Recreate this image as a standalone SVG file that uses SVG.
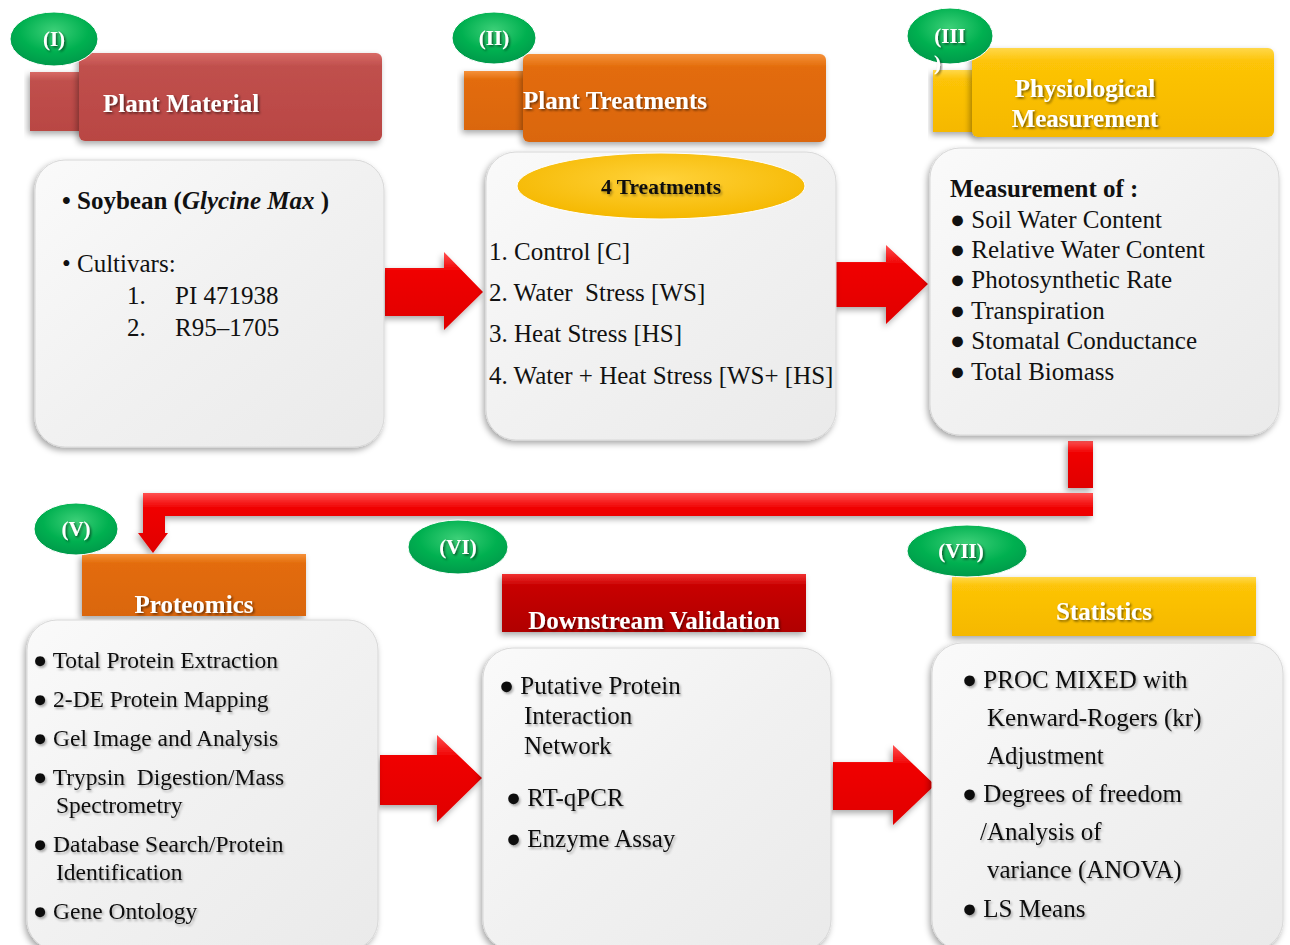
<svg xmlns="http://www.w3.org/2000/svg" width="1290" height="945" viewBox="0 0 1290 945">
<defs>
<linearGradient id="gRed" x1="0" y1="0" x2="0" y2="1"><stop offset="0" stop-color="#D86A66"/><stop offset="0.15" stop-color="#C0504D"/><stop offset="1" stop-color="#B94643"/></linearGradient>
<linearGradient id="gOrange" x1="0" y1="0" x2="0" y2="1"><stop offset="0" stop-color="#F5913A"/><stop offset="0.15" stop-color="#E36C09"/><stop offset="1" stop-color="#DA6610"/></linearGradient>
<linearGradient id="gYellow" x1="0" y1="0" x2="0" y2="1"><stop offset="0" stop-color="#FFD84A"/><stop offset="0.15" stop-color="#FDC407"/><stop offset="1" stop-color="#F5B800"/></linearGradient>
<linearGradient id="gDark" x1="0" y1="0" x2="0" y2="1"><stop offset="0" stop-color="#F03030"/><stop offset="0.2" stop-color="#C80000"/><stop offset="1" stop-color="#B00000"/></linearGradient>
<radialGradient id="gGreen" cx="0.5" cy="0.35" r="0.65"><stop offset="0" stop-color="#3DD078"/><stop offset="0.6" stop-color="#00B050"/><stop offset="1" stop-color="#00994A"/></radialGradient>
<radialGradient id="gGold" cx="0.5" cy="0.4" r="0.6"><stop offset="0" stop-color="#FFD23A"/><stop offset="1" stop-color="#F5B800"/></radialGradient>
<linearGradient id="gBox" x1="0" y1="0" x2="1" y2="1"><stop offset="0" stop-color="#FAFAFA"/><stop offset="0.5" stop-color="#F1F1F1"/><stop offset="1" stop-color="#EAEAEA"/></linearGradient>
<linearGradient id="gArrow" x1="0" y1="0" x2="0" y2="1"><stop offset="0" stop-color="#FF5050"/><stop offset="0.25" stop-color="#F00000"/><stop offset="1" stop-color="#E00000"/></linearGradient>
<filter id="sh" x="-10%" y="-10%" width="125%" height="130%"><feDropShadow dx="-2" dy="3" stdDeviation="3" flood-color="#000" flood-opacity="0.35"/></filter>
<filter id="tsh" x="-10%" y="-30%" width="130%" height="170%"><feDropShadow dx="1.5" dy="1.5" stdDeviation="1" flood-color="#000" flood-opacity="0.55"/></filter>
<filter id="tsl" x="-10%" y="-30%" width="130%" height="170%"><feDropShadow dx="1.5" dy="2" stdDeviation="1.2" flood-color="#000" flood-opacity="0.3"/></filter>
</defs>
<style>
.box{fill:url(#gBox);stroke:#D8D8D8;stroke-width:1;filter:url(#sh)}
.hd{font-family:"Liberation Serif",serif;font-weight:bold;font-size:25px;fill:#fff;filter:url(#tsh)}
.num{font-family:"Liberation Serif",serif;font-weight:bold;font-size:21px;fill:#fff;filter:url(#tsh)}
.t{font-family:"Liberation Serif",serif;font-size:25px;fill:#111}
.ts{font-family:"Liberation Serif",serif;font-size:25px;fill:#111;filter:url(#tsl)}
.tv{font-family:"Liberation Serif",serif;font-size:23.5px;fill:#111;filter:url(#tsl)}
.arr{fill:url(#gArrow);filter:url(#sh)}
.ov{fill:url(#gGreen);stroke:#fff;stroke-width:1}
</style>

<g id="connectors">
<polygon class="arr" points="385,268 444,268 444,252 483,292 444,330 444,316 385,316"/>
<polygon class="arr" points="836,262 886,262 886,245 928,284 886,324 886,307 836,307"/>
<polygon class="arr" points="380,755 437,755 437,735 482,778 437,822 437,805 380,805"/>
<polygon class="arr" points="833,762 893,762 893,745 935,785 893,825 893,810 833,810"/>
<g class="arr">
<rect x="1068" y="441" width="25" height="47" fill="url(#gArrow)"/>
<polygon points="143,493 1093,493 1093,516 165,516 165,533 168,533 153,553 138,533 143,533" fill="url(#gArrow)"/>
</g>
</g>

<g id="node-I">
<rect x="30" y="72" width="60" height="59" fill="url(#gRed)" filter="url(#sh)"/>
<rect x="79" y="53" width="303" height="88" rx="6" fill="url(#gRed)" filter="url(#sh)"/>
<ellipse class="ov" cx="54" cy="39" rx="44" ry="27"/>
<text class="num" x="54" y="46" text-anchor="middle">(I)</text>
<text class="hd" x="103" y="112">Plant Material</text>
<rect class="box" x="35" y="160" width="349" height="287" rx="30"/>
<text class="t" x="62" y="209" font-weight="bold">• Soybean (<tspan font-style="italic">Glycine Max</tspan> )</text>
<text class="t" x="62" y="272">• Cultivars:</text>
<text class="t" x="127" y="304">1.</text><text class="t" x="175" y="304">PI 471938</text>
<text class="t" x="127" y="336">2.</text><text class="t" x="175" y="336">R95–1705</text>
</g>

<g id="node-II">
<rect x="464" y="71" width="65" height="59" fill="url(#gOrange)" filter="url(#sh)"/>
<rect x="523" y="54" width="303" height="88" rx="6" fill="url(#gOrange)" filter="url(#sh)"/>
<ellipse class="ov" cx="494" cy="38" rx="42" ry="26"/>
<text class="num" x="494" y="45" text-anchor="middle">(II)</text>
<text class="hd" x="523" y="109">Plant Treatments</text>
<rect class="box" x="486" y="152" width="350" height="288" rx="30"/>
<ellipse cx="661" cy="186" rx="144" ry="33" fill="url(#gGold)" stroke="#fff" stroke-width="1"/>
<text x="661" y="194" text-anchor="middle" font-family="Liberation Serif, serif" font-weight="bold" font-size="21.5" fill="#111" filter="url(#tsl)">4 Treatments</text>
<text class="t" x="489" y="260">1. Control [C]</text>
<text class="t" x="489" y="301" xml:space="preserve">2. Water  Stress [WS]</text>
<text class="t" x="489" y="342">3. Heat Stress [HS]</text>
<text class="t" x="489" y="384">4. Water + Heat Stress [WS+ [HS]</text>
</g>

<g id="node-III">
<rect x="933" y="70" width="50" height="62" fill="url(#gYellow)" filter="url(#sh)"/>
<rect x="972" y="48" width="302" height="89" rx="6" fill="url(#gYellow)" filter="url(#sh)"/>
<ellipse class="ov" cx="950" cy="36" rx="43" ry="28"/>
<text class="num" x="950" y="43" text-anchor="middle">(III</text>
<text class="num" x="934" y="70" font-size="14">)</text>
<text class="hd" x="1085" y="97" text-anchor="middle">Physiological</text>
<text class="hd" x="1085" y="127" text-anchor="middle">Measurement</text>
<rect class="box" x="930" y="148" width="349" height="287" rx="30"/>
<text class="t" x="950" y="197" font-weight="bold">Measurement of :</text>
<text class="t" x="950" y="228">● Soil Water Content</text>
<text class="t" x="950" y="258">● Relative Water Content</text>
<text class="t" x="950" y="288">● Photosynthetic Rate</text>
<text class="t" x="950" y="319">● Transpiration</text>
<text class="t" x="950" y="349">● Stomatal Conductance</text>
<text class="t" x="950" y="380">● Total Biomass</text>
</g>

<g id="node-V">
<rect x="82" y="554" width="224" height="62" fill="url(#gOrange)" filter="url(#sh)"/>
<ellipse class="ov" cx="76" cy="529" rx="42" ry="26"/>
<text class="num" x="76" y="536" text-anchor="middle">(V)</text>
<text class="hd" x="194" y="613" text-anchor="middle">Proteomics</text>
<rect class="box" x="27" y="620" width="351" height="330" rx="30"/>
<text class="tv" x="33" y="668">● Total Protein Extraction</text>
<text class="tv" x="33" y="707">● 2-DE Protein Mapping</text>
<text class="tv" x="33" y="746">● Gel Image and Analysis</text>
<text class="tv" x="33" y="785" xml:space="preserve">● Trypsin  Digestion/Mass</text>
<text class="tv" x="56" y="813">Spectrometry</text>
<text class="tv" x="33" y="852">● Database Search/Protein</text>
<text class="tv" x="56" y="880">Identification</text>
<text class="tv" x="33" y="919">● Gene Ontology</text>
</g>

<g id="node-VI">
<rect x="502" y="574" width="304" height="58" fill="url(#gDark)" filter="url(#sh)"/>
<ellipse class="ov" cx="458" cy="547" rx="50" ry="27"/>
<text class="num" x="458" y="554" text-anchor="middle">(VI)</text>
<text class="hd" x="654" y="629" text-anchor="middle">Downstream Validation</text>
<rect class="box" x="483" y="648" width="348" height="302" rx="30"/>
<text class="ts" x="499" y="694">● Putative Protein</text>
<text class="ts" x="524" y="724">Interaction</text>
<text class="ts" x="524" y="754">Network</text>
<text class="ts" x="506" y="806">● RT-qPCR</text>
<text class="ts" x="506" y="847">● Enzyme Assay</text>
</g>

<g id="node-VII">
<rect x="952" y="577" width="304" height="59" fill="url(#gYellow)" filter="url(#sh)"/>
<ellipse class="ov" cx="967" cy="551" rx="60" ry="26"/>
<text class="num" x="961" y="558" text-anchor="middle">(VII)</text>
<text class="hd" x="1104" y="620" text-anchor="middle">Statistics</text>
<rect class="box" x="932" y="643" width="351" height="307" rx="30"/>
<text class="ts" x="962" y="688">● PROC MIXED with</text>
<text class="ts" x="987" y="726">Kenward-Rogers (kr)</text>
<text class="ts" x="987" y="764">Adjustment</text>
<text class="ts" x="962" y="802">● Degrees of freedom</text>
<text class="ts" x="980" y="840">/Analysis of</text>
<text class="ts" x="987" y="878">variance (ANOVA)</text>
<text class="ts" x="962" y="917">● LS Means</text>
</g>
</svg>
